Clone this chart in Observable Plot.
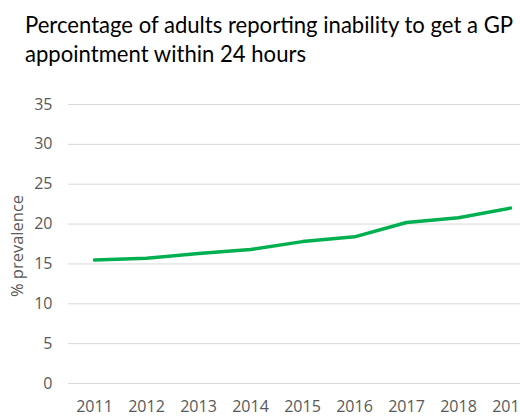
<!DOCTYPE html>
<html>
<head>
<meta charset="utf-8">
<script src="https://cdn.jsdelivr.net/npm/d3@7"></script>
<script src="https://cdn.jsdelivr.net/npm/@observablehq/plot@0.6"></script>
<style>
  html, body { margin: 0; padding: 0; background: #fff; overflow: hidden; width: 520px; height: 416px; }
  #title { font-family: Lato, "Open Sans", sans-serif; font-size: 22.1px; line-height: 29px; color: #000; padding: 10px 0 0 25px; height: 71px; box-sizing: border-box; white-space: nowrap; }
  #chart svg { display: block; max-width: none !important; }
</style>
</head>
<body>
<div id="title">Percentage of adults reporting inability to get a GP<br>appointment within 24 hours</div>
<div id="chart"></div>
<script>
const years = ["2011", "2012", "2013", "2014", "2015", "2016", "2017", "2018", "2019"];
const prevalence = [15.5, 15.7, 16.3, 16.8, 17.8, 18.4, 20.2, 20.8, 22.0];
const yTicks = [0, 5, 10, 15, 20, 25, 30, 35];

const data = years.map((y, i) => ({year: y, value: prevalence[i]}));

const chart = Plot.plot({
  width: 540,
  height: 345,
  marginLeft: 68,
  marginRight: 4,
  marginTop: 33,
  marginBottom: 33,
  style: {fontFamily: "'Open Sans', sans-serif", fontSize: "16px", color: "#595959", background: "#fff", overflow: "visible", maxWidth: "none"},
  x: {type: "point", domain: years, padding: 0.5, label: null},
  y: {domain: [0, 35], ticks: yTicks, label: null},
  marks: [
    Plot.gridY(yTicks, {stroke: "#d9d9d9", strokeOpacity: 1, strokeWidth: 1}),
    Plot.axisY(yTicks, {tickSize: 0, tickPadding: 16, fontSize: 16, fill: "#595959"}),
    Plot.axisX(years, {tickSize: 0, tickPadding: 17, fontSize: 16, fill: "#595959"}),
    Plot.text(["% prevalence"], {frameAnchor: "left", textAnchor: "middle", rotate: -90, dx: -51, dy: 2, fontSize: 16.5, fill: "#595959"}),
    Plot.lineY(data, {x: "year", y: "value", stroke: "#00b050", strokeWidth: 3.5, strokeLinecap: "round", strokeLinejoin: "round"})
  ]
});
document.getElementById("chart").appendChild(chart);
</script>
</body>
</html>
